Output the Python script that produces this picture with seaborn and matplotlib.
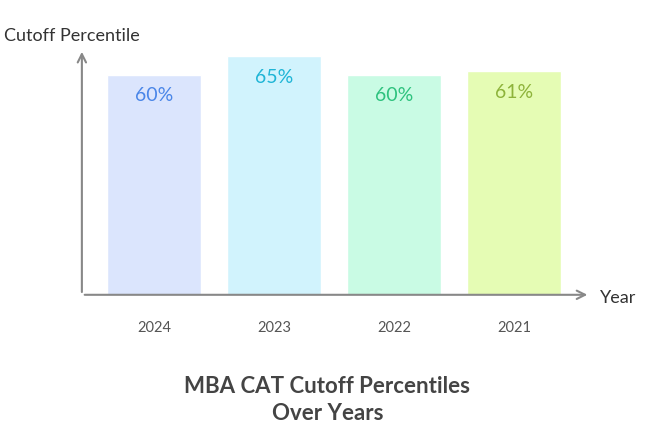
import matplotlib
matplotlib.use("Agg")
import matplotlib.pyplot as plt
import seaborn as sns
import pandas as pd

years = ["2024", "2023", "2022", "2021"]
values = [60, 65, 60, 61]
labels = ["60%", "65%", "60%", "61%"]
bar_colors = ["#dbe5fd", "#d1f3fd", "#c9fbe4", "#e5fcb4"]
text_colors = ["#4a86e8", "#1fb5d6", "#2ec27e", "#8db33a"]

sns.set_style("white")
plt.rcParams['font.family'] = ['Lato', 'DejaVu Sans']

fig = plt.figure(figsize=(6.55, 4.35), dpi=100)
ax = fig.add_axes([0.125, 0.32, 0.776, 0.565])
df = pd.DataFrame({"year": years, "value": values})
sns.barplot(data=df, x="year", y="value", hue="year", palette=bar_colors,
            width=0.783, ax=ax, legend=False, saturation=1)
ax.set_xlim(-0.6, 3.633)
ax.set_ylim(0, 67)
for s in ax.spines.values():
    s.set_visible(False)
ax.set_yticks([])
ax.set_xlabel(""); ax.set_ylabel("")
ax.tick_params(axis="x", length=0, pad=18, labelsize=10.5, colors="#555555")
for i, (v, lab, c) in enumerate(zip(values, labels, text_colors)):
    ax.text(i, v - 5.5, lab, ha="center", va="center", fontsize=14, color=c)
ax.annotate("", xy=(1.0, 0), xytext=(0, 0), xycoords="axes fraction",
            arrowprops=dict(arrowstyle="->", color="#888888", lw=1.5, mutation_scale=15))
ax.annotate("", xy=(0, 1.0), xytext=(0, 0), xycoords="axes fraction",
            arrowprops=dict(arrowstyle="->", color="#888888", lw=1.5, mutation_scale=15))
fig.text(600/655, 1-298/435, "Year", fontsize=13, color="#333333", va="center")
fig.text(4/655, 1-36/435, "Cutoff Percentile", fontsize=13, color="#333333", va="center")
fig.text(0.5, 1-400/435, "MBA CAT Cutoff Percentiles\nOver Years", ha="center", va="center",
         fontsize=16, fontweight="bold", color="#444444", linespacing=1.3)
fig.savefig("out.png", dpi=100)
